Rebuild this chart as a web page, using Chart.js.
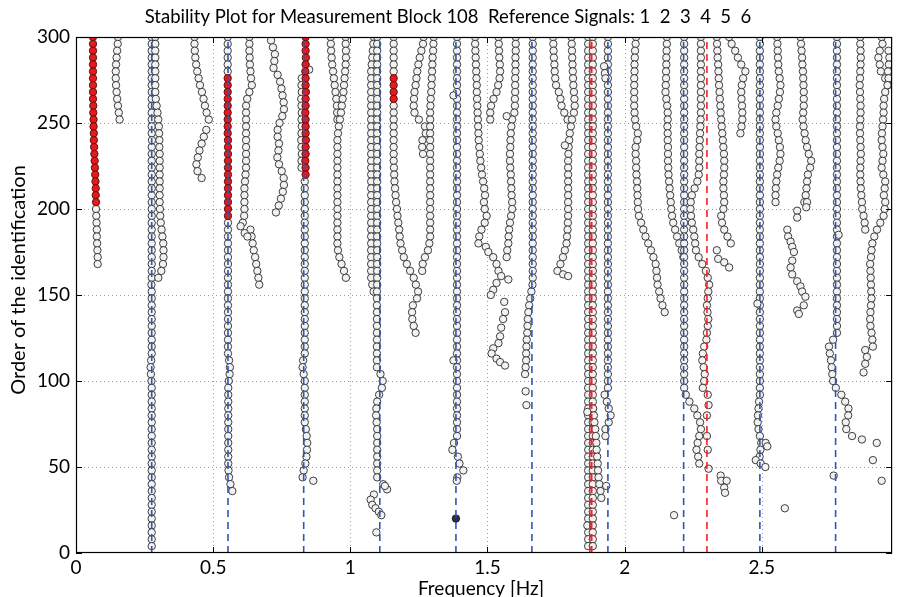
<!DOCTYPE html>
<html><head><meta charset="utf-8">
<script src="https://cdn.jsdelivr.net/npm/chart.js@4/dist/chart.umd.min.js"></script>
<style>html,body{margin:0;padding:0;background:#fff}#wrap{width:897px;height:597px}</style>
</head><body><div id="wrap"><canvas id="c" width="897" height="597"></canvas></div>
<script>
// ---------- labels ----------
const titleText = "Stability Plot for Measurement Block 108  Reference Signals: 1  2  3  4  5  6";
const xLabel = "Frequency [Hz]";
const yLabel = "Order of the identification";
const xTicks = [0, 0.5, 1, 1.5, 2, 2.5];
const yTicks = [0, 50, 100, 150, 200, 250, 300];
const xMax = 2.975, yMax = 300;
// reference lines (Hz)
const blueLines = [0.276, 0.554, 0.830, 1.1075, 1.385, 1.662, 1.939, 2.215, 2.493, 2.769];
const redLines = [1.873, 1.880, 2.300];
// ---------- tracks: top order, then one frequency per 4 orders going down ----------
const ORDER_STEP = 4;
const tA_redTop = 300, tA_red = [0.062,0.062,0.062,0.062,0.062,0.062,0.062,0.062,0.062,0.062,0.063,0.063,0.064,0.064,0.065,0.065,0.066,0.067,0.068,0.069,0.070,0.071,0.072,0.072,0.073];
const tA_top = 200, tA = [0.073,0.074,0.075,0.076,0.076,0.077,0.078,0.079,0.079];
const tB_top = 300, tB = [0.153,0.152,0.150,0.148,0.146,0.145,0.145,0.146,0.148,0.150,0.153,0.156,0.159];
const tC_top = 300, tC = [0.276,0.276,0.276,0.276,0.276, 0.276,0.276,0.276,0.276,0.276, 0.276,0.276,0.276,0.276,0.276, 0.277,0.276,0.276,0.276,0.276, 0.276,0.276,0.276,0.276,0.276, 0.276,0.276,0.276,0.276,0.276, 0.276,0.276,0.276,0.276,0.276, 0.276,0.275,0.276,0.276,0.276, 0.276,0.276,0.276,0.276,0.276, 0.276,0.276,0.274,0.272,0.273, 0.275,0.276,0.276,0.276,0.276, 0.276,0.276,0.276,0.276,0.276, 0.276,0.276,0.276,0.276,0.276, 0.276,0.276,0.276,0.276,0.276, 0.276,0.276,0.276,0.276,0.276];
const tD_top = 300, tD = [0.289,0.289,0.289,0.289,0.289,0.289,0.289,0.289,0.289,0.291,0.294,0.297,0.300,0.302,0.303,0.304,0.304,0.305,0.305,0.305,0.305,0.305,0.305,0.305,0.305,0.306,0.307,0.309,0.312,0.315,0.318,0.319,0.319,0.317,0.311,0.300];
const tE1_top = 300, tE1 = [0.553,0.553,0.553,0.553,0.553,0.553];
const tE_redTop = 276, tE_red = [0.553,0.553,0.553,0.553,0.553,0.553,0.553,0.553,0.553,0.554,0.554,0.554,0.554,0.554,0.554,0.554,0.554,0.554,0.554,0.554,0.554];
const tE2_top = 192, tE2 = [0.554,0.554,0.554,0.554,0.554,0.554,0.554,0.554,0.554,0.554,0.554,0.554,0.554,0.554,0.554,0.554,0.554,0.554,0.554,0.554,0.558,0.561,0.560,0.557,0.555,0.555,0.555,0.555,0.555,0.555,0.555,0.555,0.555,0.555,0.555,0.555,0.556,0.558,0.563,0.570];
const tF1_top = 300, tF1 = [0.632,0.632,0.632,0.633,0.634,0.636,0.638,0.641,0.632,0.624,0.620,0.620,0.620,0.620,0.620,0.620,0.620,0.620,0.620,0.620,0.618,0.616,0.614,0.614,0.614,0.614,0.613,0.608];
const tF2_top = 188, tF2 = [0.636,0.640,0.644,0.648,0.653,0.657,0.661,0.665,0.668];
const tG1_top = 300, tG1 = [0.432,0.432,0.433,0.435,0.438,0.442,0.447,0.452,0.459,0.465,0.470,0.476,0.484];
const tG2_top = 246, tG2 = [0.475,0.466,0.458,0.450,0.444,0.439,0.443,0.458];
const tI_top = 298, tI = [0.711,0.718,0.725,0.723,0.720,0.735,0.744,0.749,0.753,0.757,0.758,0.752,0.742,0.735,0.735,0.740,0.738,0.734,0.740,0.750,0.757,0.758,0.754,0.747,0.739,0.729];
const tJ_redTop = 300, tJ_red = [0.837,0.837,0.837,0.838,0.837,0.836,0.837,0.837,0.838,0.837,0.837,0.836,0.837,0.837,0.837,0.838,0.837,0.837,0.836,0.837,0.837];
const tJ_top = 216, tJ = [0.834,0.834,0.834,0.834,0.834,0.834,0.834,0.834,0.834,0.834,0.834,0.834,0.834,0.834,0.834,0.834,0.834,0.834,0.834,0.834,0.834,0.834,0.834,0.834,0.834,0.834,0.828,0.826,0.830,0.834,0.834,0.834,0.834,0.834,0.834,0.834,0.838,0.841,0.843,0.842,0.840,0.836,0.830,0.826];
const tJ2_top = 276, tJ2 = [0.823,0.822,0.823,0.821,0.822,0.823,0.822,0.823,0.822,0.821,0.822,0.823,0.822,0.822];
const tK1_top = 300, tK1 = [0.928,0.929,0.930,0.932,0.934,0.937,0.940,0.943,0.946,0.949,0.951,0.952,0.953];
const tK2_top = 300, tK2 = [0.983,0.983,0.984,0.984,0.983,0.981,0.979,0.977,0.975,0.972,0.969,0.966,0.962,0.958,0.955,0.953,0.953,0.953,0.953,0.953,0.953,0.953,0.953,0.953,0.953,0.953,0.953,0.953,0.953,0.953,0.953,0.955,0.960,0.968,0.977,0.984];
const tL1_top = 300, tL1 = [1.086,1.084,1.082,1.080,1.078,1.076,1.076,1.076,1.076,1.076,1.076,1.076,1.076,1.076,1.076,1.076,1.076,1.076,1.076,1.076,1.076,1.076,1.076,1.076,1.076,1.076,1.076,1.076,1.076,1.076,1.076,1.076,1.076,1.076,1.076,1.076,1.080,1.085];
const tL2_top = 300, tL2 = [1.098,1.098,1.098,1.098,1.098,1.098,1.098,1.098,1.098,1.098,1.098,1.098,1.098,1.098,1.098,1.098,1.098,1.098,1.098,1.098,1.098,1.098,1.098,1.098,1.098,1.098,1.098,1.098,1.098,1.098,1.098,1.098,1.098,1.098,1.098,1.098,1.098,1.097,1.097,1.097,1.097,1.097,1.097,1.097,1.097,1.097,1.097,1.097,1.097,1.110,1.118,1.115,1.105,1.098,1.095,1.094,1.096,1.098,1.098,1.098,1.098,1.098,1.098,1.098,1.098,1.120];
const tM1_top = 300, tM1 = [1.158,1.158,1.158,1.158,1.158,1.158];
const tM_redTop = 276, tM_red = [1.158,1.158,1.158,1.158];
const tM2_top = 260, tM2 = [1.158,1.158,1.158,1.158,1.158,1.158,1.158,1.158,1.158,1.159,1.160,1.161,1.163,1.165,1.167,1.170,1.172,1.175,1.178,1.180,1.183,1.189,1.195,1.206,1.218,1.231,1.239,1.247,1.243,1.228,1.225,1.226,1.231,1.238];
const tN1_top = 300, tN1 = [1.267,1.265,1.259,1.253,1.248,1.244,1.241,1.238,1.234,1.232,1.231,1.234,1.250,1.272,1.275,1.263,1.262,1.265];
const tN2_top = 300, tN2 = [1.304,1.303,1.302,1.300,1.299,1.298,1.297,1.296,1.295,1.293,1.292,1.291,1.291,1.291,1.291,1.291,1.291,1.291,1.291,1.291,1.291,1.291,1.291,1.291,1.291,1.291,1.291,1.291,1.291,1.291,1.288,1.283,1.272,1.264,1.262];
const tO_top = 300, tO = [1.389,1.389,1.389,1.389,1.389,1.389,1.389,1.389,1.389,1.389,1.389,1.389,1.389,1.389,1.389,1.389,1.389,1.389,1.389,1.389,1.389,1.389,1.389,1.389,1.389,1.389,1.389,1.389,1.389,1.389,1.389,1.389,1.389,1.389,1.389,1.389,1.389,1.389,1.389,1.389,1.389,1.389,1.389,1.389,1.389,1.389,1.389,1.389,1.389,1.389,1.389,1.389,1.389,1.389,1.389,1.389,1.389,1.389,1.389,1.378,1.372,1.392,1.398,1.412,1.390];
const tP_top = 300, tP = [1.455,1.455,1.456,1.457,1.458,1.459,1.460,1.461,1.461,1.462,1.463,1.464,1.465,1.466,1.467,1.468,1.470,1.472,1.474,1.477,1.480,1.484,1.488,1.491,1.487,1.490,1.497,1.490,1.478,1.470,1.467];
const tR_top = 300, tR = [1.540,1.541,1.542,1.543,1.545,1.546,1.544,1.539,1.533,1.522,1.513,1.510,1.510];
const tS_top = 300, tS = [1.603,1.603,1.603,1.602,1.602,1.602,1.601,1.601,1.601,1.600,1.600,1.598,1.590,1.587,1.585,1.584,1.583,1.582,1.582,1.583,1.585,1.586,1.587,1.588,1.590,1.590,1.586,1.582,1.579,1.577,1.576,1.572,1.570];
const tU_top = 300, tU = [1.665,1.665,1.665,1.665,1.665,1.665,1.665,1.665,1.665,1.665,1.665,1.665,1.665,1.665,1.665,1.665,1.665,1.665,1.665,1.665,1.665,1.665,1.665,1.665,1.665,1.665,1.665,1.665,1.665,1.665,1.665,1.665,1.665,1.665,1.665,1.665,1.664,1.660,1.656,1.652,1.649,1.647,1.646,1.645,1.643,1.642,1.641,1.641,1.639,1.637];
const tV1_top = 300, tV1 = [1.739,1.740,1.741,1.742,1.744,1.745,1.747,1.750,1.760,1.766,1.770,1.780,1.792];
const tV2_top = 300, tV2 = [1.806,1.807,1.808,1.809,1.810,1.811,1.812,1.813,1.815,1.817,1.818,1.815,1.808,1.804,1.800,1.798,1.796,1.795,1.794,1.794,1.794,1.794,1.794,1.794,1.794,1.794,1.794,1.793,1.792,1.790,1.788,1.782,1.775,1.766,1.755];
const tW1_top = 300, tW1 = [1.867,1.867,1.867,1.867,1.867,1.867,1.867,1.867,1.867,1.867,1.867,1.867,1.867,1.867,1.867,1.867,1.867,1.867,1.867,1.867,1.867,1.867,1.867,1.867,1.867,1.867,1.867,1.867,1.867,1.867,1.867,1.867,1.867,1.867,1.867,1.867,1.867,1.867,1.867,1.867,1.867,1.867,1.867,1.867,1.867,1.867,1.867,1.867,1.867,1.867,1.867,1.867,1.867,1.867,1.867,1.867,1.867,1.867,1.867,1.867,1.867,1.867,1.867,1.867,1.867,1.867,1.867,1.867,1.867,1.867,1.867,1.867,1.867,1.867,1.867];
const tW2_top = 300, tW2 = [1.884,1.884,1.884,1.884,1.884,1.884,1.884,1.884,1.884,1.884,1.884,1.884,1.884,1.884,1.884,1.884,1.884,1.884,1.884,1.884,1.884,1.884,1.884,1.884,1.884,1.884,1.884,1.884,1.884,1.884,1.884,1.884,1.884,1.884,1.884,1.884,1.884,1.884,1.884,1.884,1.884,1.884,1.884,1.884,1.884,1.884,1.884,1.884,1.884,1.884,1.884,1.884,1.884,1.884,1.884,1.884,1.884,1.884,1.884,1.884,1.884,1.884,1.884,1.884,1.884,1.884,1.884,1.884,1.884,1.884,1.884,1.884,1.884,1.884,1.884];
const tW3_top = 84, tW3 = [1.885,1.888,1.890,1.893,1.895,1.897,1.898,1.900,1.902,1.903,1.905,1.908,1.912,1.915];
const tX_top = 300, tX = [1.939,1.939,1.939,1.939,1.939,1.939,1.939,1.939,1.939,1.939,1.939,1.939,1.939,1.939,1.939,1.939,1.939,1.939,1.939,1.939,1.939,1.939,1.939,1.939,1.939,1.939,1.939,1.939,1.939,1.939,1.939,1.939,1.939,1.939,1.939,1.939,1.939,1.939,1.939,1.939,1.939,1.939,1.939,1.939,1.939,1.939,1.939,1.939,1.939,1.939,1.939,1.939,1.927,1.935,1.942,1.949,1.942,1.930,1.930];
const tY_top = 300, tY = [2.042,2.040,2.038,2.037,2.036,2.036,2.035,2.035,2.035,2.035,2.035,2.036,2.038,2.042,2.048,2.046,2.040,2.040,2.042,2.042,2.043,2.045,2.046,2.047,2.048,2.049,2.052,2.060,2.068,2.076,2.086,2.096,2.105,2.113,2.116,2.118,2.120,2.126,2.131,2.138,2.146];
const tZ_top = 300, tZ = [2.154,2.154,2.153,2.152,2.152,2.151,2.151,2.150,2.149,2.152,2.155,2.157,2.157,2.156,2.157,2.157,2.158,2.158,2.158,2.159,2.160,2.162,2.164,2.166,2.168,2.170,2.173,2.177,2.184,2.191,2.199,2.208,2.214];
const tAA_top = 300, tAA = [2.217,2.217,2.217,2.217,2.217,2.217,2.217,2.217,2.217,2.217,2.217,2.217,2.217,2.217,2.217,2.217,2.217,2.217,2.217,2.217,2.217,2.217,2.217,2.217,2.217,2.217,2.217,2.217,2.217,2.217,2.217,2.217,2.217,2.217,2.217,2.217,2.217,2.217,2.217,2.217,2.217,2.217,2.217,2.217,2.217,2.217,2.217,2.217,2.217,2.217,2.217,2.217];
const tAA2_top = 92, tAA2 = [2.223,2.236,2.254,2.265,2.275,2.278,2.272,2.266,2.262,2.268,2.272];
const tAB_top = 300, tAB = [2.278,2.278,2.278,2.278,2.278,2.278,2.278,2.278,2.278,2.278,2.278,2.278,2.277,2.276,2.275,2.274,2.273,2.272,2.272,2.272,2.270,2.265,2.255,2.245,2.241,2.240,2.242,2.245,2.250,2.254,2.257,2.260,2.270,2.283,2.296,2.303,2.308,2.305,2.303,2.300,2.302,2.305,2.303,2.300,2.298,2.290,2.285,2.283,2.288,2.292,2.290,2.285];
const tAC_top = 300, tAC = [2.336,2.337,2.338,2.339,2.341,2.342,2.343,2.344,2.346,2.347,2.349,2.350,2.352,2.354,2.356,2.358,2.360,2.362,2.363,2.363,2.362,2.360,2.360,2.362,2.363,2.360,2.352,2.355,2.363,2.375,2.387];
const tAD_top = 300, tAD = [2.381,2.390,2.403,2.413,2.425,2.440,2.432,2.427,2.425,2.426,2.428,2.429,2.429,2.426,2.422];
const tAE_top = 300, tAE = [2.493,2.493,2.493,2.493,2.493,2.493,2.493,2.493,2.493,2.493,2.493,2.493,2.493,2.493,2.493,2.493,2.493,2.493,2.493,2.493,2.493,2.493,2.493,2.493,2.493,2.493,2.493,2.493,2.493,2.493,2.493,2.493,2.493,2.493,2.493,2.493,2.493,2.493,2.493,2.493,2.493,2.493,2.493,2.493,2.493,2.493,2.493,2.493,2.493,2.493,2.493,2.493,2.493,2.490,2.488,2.486,2.485,2.488,2.493,2.498,2.495,2.492];
const tAF_top = 300, tAF = [2.556,2.557,2.558,2.559,2.560,2.562,2.565,2.568,2.566,2.562,2.558,2.553,2.550,2.553,2.558,2.562,2.566,2.568,2.565,2.560,2.556,2.553,2.551,2.550,2.550];
const tAG_top = 300, tAG = [2.641,2.643,2.645,2.647,2.648,2.650,2.651,2.652,2.653,2.653,2.653,2.651,2.649,2.652,2.656,2.660,2.665,2.671,2.680,2.676,2.668,2.665,2.663,2.660,2.655];
const tAH_top = 300, tAH = [2.774,2.774,2.774,2.774,2.774,2.774,2.774,2.774,2.774,2.774,2.774,2.774,2.774,2.774,2.774,2.774,2.774,2.774,2.774,2.774,2.774,2.774,2.774,2.774,2.774,2.774,2.774,2.774,2.774,2.774,2.774,2.774,2.774,2.774,2.774,2.774,2.774,2.774,2.774,2.774,2.774,2.774,2.774,2.774,2.760,2.745,2.748,2.752,2.755,2.757,2.760,2.770,2.790,2.804,2.816,2.815,2.806,2.808,2.829];
const tAI_top = 300, tAI = [2.859,2.859,2.860,2.861,2.860,2.859,2.858,2.857,2.858,2.859,2.860,2.860,2.859,2.858,2.858,2.859,2.860,2.861,2.860,2.859,2.859,2.860,2.861,2.863,2.865,2.866,2.871,2.875,2.877];
const tAJ_top = 300, tAJ = [2.937,2.940,2.930,2.925,2.930,2.934,2.950,2.960,2.950,2.946,2.944,2.944,2.942,2.940,2.938,2.937,2.940,2.943,2.940,2.937,2.943,2.950,2.948,2.945,2.950,2.948,2.944,2.932,2.920,2.910,2.903,2.900,2.898,2.895,2.896,2.897,2.898,2.899,2.900,2.898,2.896,2.895,2.896,2.900,2.903,2.905];
const tAK_top = 292, tAK = [2.962,2.965,2.963,2.960,2.962,2.958];
// ---------- isolated points: [frequency, order] ----------
const looseWhite = [
  [0.600,190],[0.615,186],[0.625,184],
  [0.865,42],[0.850,281],
  [1.134,37],[1.126,39],[1.086,34],[1.074,31],[1.080,28],[1.092,26],[1.104,24],[1.113,22],[1.095,12],
  [1.376,266],[1.376,112],[1.388,42],
  [1.494,178],[1.503,175],[1.521,172],[1.533,168],[1.540,164],[1.550,161],[1.576,159],[1.533,157],[1.521,153],[1.512,150],[1.561,146],[1.564,140],[1.557,136],[1.550,131],[1.546,126],[1.540,122],[1.521,119],[1.515,116],[1.533,113],[1.546,111],[1.564,109],
  [1.570,254],[1.639,94],[1.642,86],
  [1.776,162],[1.794,161],[1.782,237],
  [1.933,39],[1.864,82],[1.864,16],[1.925,283],[1.928,279],[1.930,276],
  [2.18,22],
  [2.303,92],[2.306,86],[2.300,80],[2.300,68],[2.303,60],[2.306,49],
  [2.336,176],[2.341,171],[2.363,169],[2.381,166],[2.350,45],[2.352,42],[2.372,42],[2.363,38],[2.366,35],
  [2.484,145],[2.514,64],[2.520,62],[2.478,54],[2.496,52],[2.513,50],
  [2.593,188],[2.596,184],[2.605,181],[2.611,178],[2.617,175],[2.611,170],[2.605,166],[2.611,162],[2.629,158],[2.641,155],[2.647,152],[2.659,149],[2.653,144],[2.629,141],[2.635,139],[2.629,199],[2.629,195],[2.665,204],[2.662,201],
  [2.584,26],
  [2.865,66],[2.919,64],[2.905,54],[2.937,42],[2.762,45],[2.780,185],
  [2.877,118],[2.883,114],[2.877,110],[2.871,105]
];
const looseDark = [[1.385,20]];

// ---------- build datasets ----------
function track(top, freqs){ return freqs.map((f,i)=>({x:f, y:top - ORDER_STEP*i})); }
function loose(list){ return list.map(p=>({x:p[0], y:p[1]})); }

const whitePts = [].concat(
  track(tA_top,tA), track(tB_top,tB), track(tC_top,tC), track(tD_top,tD),
  track(tE1_top,tE1), track(tE2_top,tE2), track(tF1_top,tF1), track(tF2_top,tF2),
  track(tG1_top,tG1), track(tG2_top,tG2), track(tI_top,tI), track(tJ_top,tJ), track(tJ2_top,tJ2),
  track(tK1_top,tK1), track(tK2_top,tK2), track(tL1_top,tL1), track(tL2_top,tL2),
  track(tM1_top,tM1), track(tM2_top,tM2), track(tN1_top,tN1), track(tN2_top,tN2),
  track(tO_top,tO), track(tP_top,tP), track(tR_top,tR), track(tS_top,tS), track(tU_top,tU),
  track(tV1_top,tV1), track(tV2_top,tV2), track(tW1_top,tW1), track(tW2_top,tW2), track(tW3_top,tW3),
  track(tX_top,tX), track(tY_top,tY), track(tZ_top,tZ), track(tAA_top,tAA), track(tAA2_top,tAA2),
  track(tAB_top,tAB), track(tAC_top,tAC), track(tAD_top,tAD), track(tAE_top,tAE), track(tAF_top,tAF),
  track(tAG_top,tAG), track(tAH_top,tAH), track(tAI_top,tAI), track(tAJ_top,tAJ), track(tAK_top,tAK),
  loose(looseWhite)
);
const redPts = [].concat(track(tA_redTop,tA_red), track(tE_redTop,tE_red), track(tJ_redTop,tJ_red), track(tM_redTop,tM_red));

const FONT = "Lato, 'DejaVu Sans', sans-serif";
const R = 3.7;
const datasets = [];
blueLines.forEach(f => datasets.push({type:'line', data:[{x:f,y:0},{x:f,y:yMax}], borderColor:'#2f55b8', borderWidth:1.6, borderDash:[7,5], pointRadius:0, order:0}));
redLines.forEach(f => datasets.push({type:'line', data:[{x:f,y:0},{x:f,y:yMax}], borderColor:'#ee2228', borderWidth:1.6, borderDash:[7,5], pointRadius:0, order:0}));
datasets.push({type:'scatter', data:loose(looseDark), pointRadius:R, backgroundColor:'#2b3147', borderColor:'#111', borderWidth:0.9, order:1});
datasets.push({type:'scatter', data:redPts, pointRadius:R, backgroundColor:'#e41a1c', borderColor:'#5a0a0a', borderWidth:0.9, order:2});
datasets.push({type:'scatter', data:whitePts, pointRadius:R, backgroundColor:'#f2f2f2', borderColor:'#2a2a2a', borderWidth:0.9, order:3});

const frame = {
  id:'frame',
  beforeDatasetsDraw(chart){
    const {ctx, chartArea:a, scales:{x,y}} = chart;
    ctx.save();
    ctx.strokeStyle = '#9a9a9a'; ctx.lineWidth = 1; ctx.setLineDash([1,3]);
    xTicks.forEach(v=>{ if(v<=0) return; const px = Math.round(x.getPixelForValue(v))+0.5; ctx.beginPath(); ctx.moveTo(px,a.top); ctx.lineTo(px,a.bottom); ctx.stroke(); });
    yTicks.forEach(v=>{ if(v<=0||v>=yMax) return; const py = Math.round(y.getPixelForValue(v))+0.5; ctx.beginPath(); ctx.moveTo(a.left,py); ctx.lineTo(a.right,py); ctx.stroke(); });
    ctx.restore();
  },
  afterDatasetsDraw(chart){
    const {ctx, chartArea:a, scales:{x,y}} = chart;
    ctx.save();
    ctx.strokeStyle = '#000'; ctx.lineWidth = 1.2; ctx.setLineDash([]);
    ctx.strokeRect(a.left+0.5, a.top+0.5, a.right-a.left-1, a.bottom-a.top-1);
    ctx.lineWidth = 1;
    const L = 6;
    xTicks.forEach(v=>{ const px = Math.round(x.getPixelForValue(v))+0.5; ctx.beginPath(); ctx.moveTo(px,a.bottom); ctx.lineTo(px,a.bottom-L); ctx.moveTo(px,a.top); ctx.lineTo(px,a.top+L); ctx.stroke(); });
    yTicks.forEach(v=>{ const py = Math.round(y.getPixelForValue(v))+0.5; ctx.beginPath(); ctx.moveTo(a.left,py); ctx.lineTo(a.left+L,py); ctx.moveTo(a.right,py); ctx.lineTo(a.right-L,py); ctx.stroke(); });
    // texts
    ctx.fillStyle = '#000';
    ctx.font = "18.5px " + FONT; ctx.textAlign = 'center'; ctx.textBaseline = 'middle';
    ctx.fillText(titleText, 448, 17);
    ctx.font = "19px " + FONT;
    ctx.fillText(xLabel, 481, 589);
    ctx.font = "20px " + FONT;
    ctx.translate(19, 280); ctx.rotate(-Math.PI/2);
    ctx.fillText(yLabel, 0, 0);
    ctx.restore();
  }
};

new Chart(document.getElementById('c'), {
  data:{datasets},
  options:{
    responsive:false, animation:false, devicePixelRatio:1,
    layout:{padding:{top:37, right:2, left:0, bottom:0}},
    plugins:{legend:{display:false}, tooltip:{enabled:false}},
    scales:{
      x:{type:'linear', min:0, max:xMax,
         afterFit(s){ s.height = 44; },
         afterBuildTicks(s){ s.ticks = xTicks.map(v=>({value:v})); },
         ticks:{stepSize:0.5, includeBounds:false, padding:3, color:'#000', font:{family:FONT, size:19}, maxRotation:0, callback:v=>String(v)},
         grid:{display:false, drawTicks:false}, border:{display:false}},
      y:{type:'linear', min:0, max:yMax,
         afterFit(s){ s.width = 76; },
         afterBuildTicks(s){ s.ticks = yTicks.map(v=>({value:v})); },
         ticks:{stepSize:50, padding:6, color:'#000', font:{family:FONT, size:19}},
         grid:{display:false, drawTicks:false}, border:{display:false}}
    }
  },
  plugins:[frame]
});
</script></body></html>
